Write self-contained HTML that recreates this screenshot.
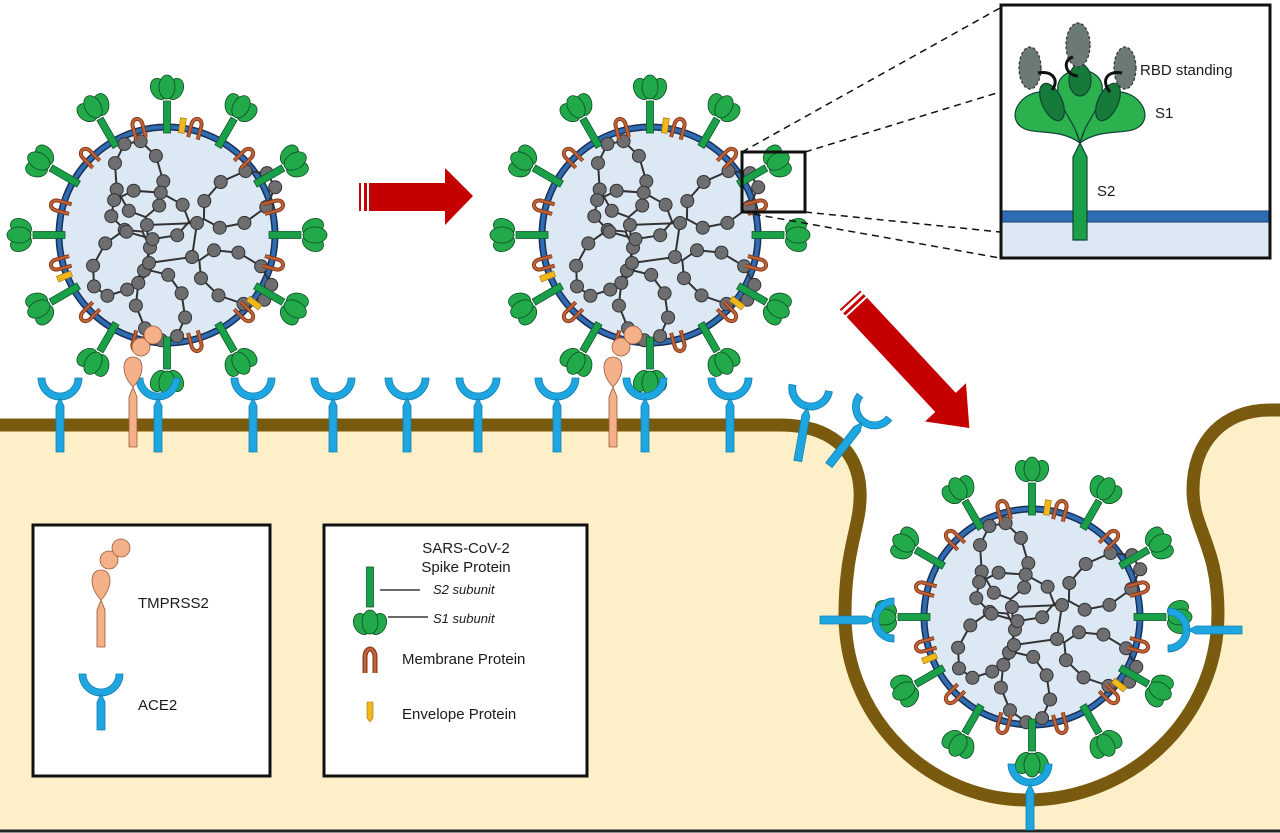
<!DOCTYPE html>
<html><head><meta charset="utf-8"><style>
html,body{margin:0;padding:0;background:#fff;}
svg{display:block}
text{font-family:"Liberation Sans",sans-serif;fill:#1a1a1a}
</style></head><body>
<svg id="s" width="1280" height="833" viewBox="0 0 1280 833" xmlns="http://www.w3.org/2000/svg">
<path d="M0,425 L780,425 C830,425 858,450 860,490 C862,525 845,545 845,615 C845,720 930,800 1027,800 C1130,800 1218,720 1218,613 C1218,545 1193,530 1193,490 C1193,440 1225,410 1270,410 L1280,410 L1280,830 L0,830 Z" fill="#fdf0c8"/>
<path d="M0,425 L780,425 C830,425 858,450 860,490 C862,525 845,545 845,615 C845,720 930,800 1027,800 C1130,800 1218,720 1218,613 C1218,545 1193,530 1193,490 C1193,440 1225,410 1270,410 L1280,410" fill="none" stroke="#7a5a0e" stroke-width="13"/>
<line x1="0" y1="831" x2="1280" y2="831" stroke="#222" stroke-width="3"/>
<g id="g"></g>
<rect x="33" y="525" width="237" height="251" fill="#fff" stroke="#111" stroke-width="3"/>
<rect x="324" y="525" width="263" height="251" fill="#fff" stroke="#111" stroke-width="3"/>
<g id="lg"></g>
<path d="M365,673 L365,657 A5,8 0 0 1 375,657 L375,673" fill="none" stroke="#8a3a1a" stroke-width="5"/>
<path d="M365,673 L365,657 A5,8 0 0 1 375,657 L375,673" fill="none" stroke="#c0653a" stroke-width="2.5"/>
<text x="138" y="608" font-size="15">TMPRSS2</text>
<text x="138" y="710" font-size="15">ACE2</text>
<text x="466" y="553" font-size="15" text-anchor="middle">SARS-CoV-2</text>
<text x="466" y="572" font-size="15" text-anchor="middle">Spike Protein</text>
<line x1="380" y1="590" x2="420" y2="590" stroke="#111" stroke-width="1.2"/>
<line x1="388" y1="617" x2="428" y2="617" stroke="#111" stroke-width="1.2"/>
<text x="433" y="594" font-size="13" font-style="italic">S2 subunit</text>
<text x="433" y="623" font-size="13" font-style="italic">S1 subunit</text>
<text x="402" y="664" font-size="15">Membrane Protein</text>
<text x="402" y="719" font-size="15">Envelope Protein</text>
<g fill="#c40000">
<rect x="359" y="183" width="2" height="28"/><rect x="364" y="183" width="3" height="28"/>
<polygon points="369,183 445,183 445,168 473,196 445,225 445,211 369,211"/>
<g transform="translate(850,300) rotate(47)">
<rect x="0" y="-14" width="2" height="28"/><rect x="5" y="-14" width="3" height="28"/>
<polygon points="10,-14 140,-14 140,-28 175,0 140,28 140,14 10,14"/>
</g>
</g>
<rect x="742" y="152" width="63" height="60" fill="none" stroke="#111" stroke-width="3"/>
<g stroke="#111" stroke-width="1.5" stroke-dasharray="7,5">
<line x1="742" y1="152" x2="1000" y2="8"/><line x1="805" y1="152" x2="1000" y2="92"/>
<line x1="805" y1="212" x2="1000" y2="232"/><line x1="742" y1="212" x2="1000" y2="258"/>
</g>
<rect x="1001" y="5" width="269" height="253" fill="#fff" stroke="#111" stroke-width="3"/>
<rect x="1002.5" y="222" width="266" height="34.5" fill="#dde8f5"/>
<rect x="1002.5" y="211" width="266" height="11" fill="#2f6db3" stroke="#1b3d6e" stroke-width="1"/>
<g stroke="#143" stroke-width="1.2">
<polygon points="1073,240 1087,240 1087,157 1080,143 1073,157" fill="#1aa048"/>
<path d="M1080,143 C1060,128 1035,135 1023,128 C1005,118 1020,90 1045,92 C1065,95 1070,115 1080,143Z" fill="#2bb24f"/>
<path d="M1080,143 C1100,128 1125,135 1137,128 C1155,118 1140,90 1115,92 C1095,95 1090,115 1080,143Z" fill="#2bb24f"/>
<path d="M1080,143 C1075,120 1055,105 1058,85 C1062,65 1098,65 1102,85 C1105,105 1085,120 1080,143Z" fill="#2bb24f"/>
<ellipse cx="1052" cy="102" rx="10" ry="20" transform="rotate(-25 1052 102)" fill="#157a3a"/>
<ellipse cx="1108" cy="102" rx="10" ry="20" transform="rotate(25 1108 102)" fill="#157a3a"/>
<ellipse cx="1080" cy="80" rx="11" ry="16" fill="#157a3a"/>
<g fill="#6b7a72" stroke="#333" stroke-dasharray="3,2">
<ellipse cx="1030" cy="68" rx="11" ry="21"/><ellipse cx="1078" cy="45" rx="12" ry="22"/><ellipse cx="1125" cy="68" rx="11" ry="21"/>
</g>
</g>
<g fill="none" stroke="#111" stroke-width="3">
<path d="M1038,73 C1052,70 1060,80 1052,90"/><path d="M1078,76 C1065,75 1062,60 1073,57"/><path d="M1122,73 C1108,70 1100,80 1110,92"/>
</g>
<text x="1140" y="75" font-size="15">RBD standing</text>
<text x="1155" y="118" font-size="15">S1</text>
<text x="1097" y="196" font-size="15">S2</text>
</svg>
<script>
var h='';
function ace(x,y,rot,sl){ sl=sl||70;
 return '<g transform="translate('+x+','+y+') rotate('+(rot||0)+')"><path d="M-22,-4 A22,22 0 0 0 22,-4 L15,-4 A15,15 0 0 1 -15,-4Z" fill="#1ea6e0" stroke="#1580b0" stroke-width="0.8"/><polygon points="-4,24 0,16 4,24 4,'+sl+' -4,'+sl+'" fill="#1ea6e0" stroke="#1580b0" stroke-width="0.8"/></g>';
}
function tmp(x,y,sl){ sl=sl||90;
 return '<g stroke="#9a5a3a" stroke-width="0.8" fill="#f4b088"><polygon points="'+(x-4)+','+(y+40)+' '+x+','+(y+30)+' '+(x+4)+','+(y+40)+' '+(x+4)+','+(y+sl)+' '+(x-4)+','+(y+sl)+'"/><path d="M'+x+','+(y+30)+' C'+(x-12)+','+(y+18)+' '+(x-12)+','+(y)+' '+x+','+(y)+' C'+(x+12)+','+y+' '+(x+12)+','+(y+18)+' '+x+','+(y+30)+'Z"/><circle cx="'+(x+8)+'" cy="'+(y-10)+'" r="9"/><circle cx="'+(x+20)+'" cy="'+(y-22)+'" r="9"/></g>';
}
var MP='<path d="M-5,-100 L-5,-114 A5,6 0 0 1 5,-114 L5,-100" fill="none" stroke="#8a3a1a" stroke-width="4"/><path d="M-5,-100 L-5,-114 A5,6 0 0 1 5,-114 L5,-100" fill="none" stroke="#c0653a" stroke-width="2"/>';
var HEAD='<g fill="#22aa4a" stroke="#0e4a22" stroke-width="0.8"><ellipse cx="-8" cy="-146" rx="8" ry="11" transform="rotate(-25 -8 -146)"/><ellipse cx="8" cy="-146" rx="8" ry="11" transform="rotate(25 8 -146)"/><ellipse cx="0" cy="-148" rx="8" ry="12"/></g>';
function virus(cx,cy,off){
 var s='';
 s+='<circle cx="'+cx+'" cy="'+cy+'" r="108" fill="#dde8f5" stroke="#1b2f55" stroke-width="7"/><circle cx="'+cx+'" cy="'+cy+'" r="108" fill="none" stroke="#2f6db3" stroke-width="4"/>';
 var gc='',gl='';
 var dirs=[[-100,78],[-30,80],[25,78],[75,72],[125,75],[-170,80]];
 var ctr=[[cx-20,cy-10],[cx+30,cy-12],[cx+25,cy+22],[cx-18,cy+28]];
 gl+='<path d="M'+ctr[0]+' L'+ctr[1]+' L'+ctr[2]+' L'+ctr[3]+' Z" fill="none" stroke="#333" stroke-width="2"/>';
 for(var k=0;k<6;k++){
  var a=dirs[k][0]*Math.PI/180,L=dirs[k][1],c0=ctr[k%4];
  var pts=[];
  for(var i=0;i<=9;i++){var t=i/9*2*Math.PI;var lx=L/2-L/2*Math.cos(t),ly=24*Math.sin(t);
   pts.push([c0[0]+lx*Math.cos(a)-ly*Math.sin(a)+8*Math.cos(a),c0[1]+lx*Math.sin(a)+ly*Math.cos(a)+8*Math.sin(a)]);}
  var d='M'+c0[0]+','+c0[1];pts.forEach(function(p){d+=' L'+p[0].toFixed(1)+','+p[1].toFixed(1)});d+=' L'+c0[0]+','+c0[1];
  gl+='<path d="'+d+'" fill="none" stroke="#333" stroke-width="2"/>';
  pts.slice(1,9).forEach(function(p){gc+='<circle cx="'+p[0].toFixed(1)+'" cy="'+p[1].toFixed(1)+'" r="6.5" fill="#6e6e70" stroke="#333" stroke-width="1"/>';});
 }
 ctr.forEach(function(p){gc+='<circle cx="'+p[0]+'" cy="'+p[1]+'" r="6.5" fill="#6e6e70" stroke="#333" stroke-width="1"/>';});
 s+=gl+gc;
 for(var j=0;j<12;j++){
  var an=-90+j*30+off;
  s+='<g transform="translate('+cx+','+cy+') rotate('+(an+90)+')"><rect x="-3.5" y="-134" width="7" height="32" fill="#1aa048" stroke="#0e5a2a" stroke-width="0.8"/>'+HEAD+'</g>';
  s+='<g transform="translate('+cx+','+cy+') rotate('+(an+15+90)+')">'+MP+'</g>';
  if(j%4==0){s+='<g transform="translate('+cx+','+cy+') rotate('+(an+8+90)+')"><polygon points="-3,-103 3,-103 3,-118 -3,-118" fill="#f0b818" stroke="#a07010" stroke-width="0.6"/></g>';}
 }
 return s;
}
h+=virus(167,235,0);
h+=virus(650,235,0);
h+=virus(1032,617,0);
[60,158,253,333,407,478,557,645,730].forEach(function(x){h+=ace(x,382);});
h+=ace(810,392,10);h+=ace(872,410,38);
h+=ace(1030,768,0,62);h+=ace(890,620,90);h+=ace(1172,630,-90);
h+=tmp(133,357);h+=tmp(613,357);
document.getElementById('g').innerHTML=h;
var l='';
l+=tmp(101,570,77);
l+=ace(101,678,0,52);
l+='<g transform="translate(370,760)"><rect x="-3.5" y="-193" width="7" height="40" fill="#1aa048" stroke="#0e5a2a" stroke-width="0.8"/><g transform="translate(0,10)">'+HEAD+'</g></g>';
l+='<polygon points="367,702 373,702 373,718 370,722 367,718" fill="#f0b818" stroke="#a07010" stroke-width="0.6"/>';
document.getElementById('lg').innerHTML=l;
</script>
</body></html>
